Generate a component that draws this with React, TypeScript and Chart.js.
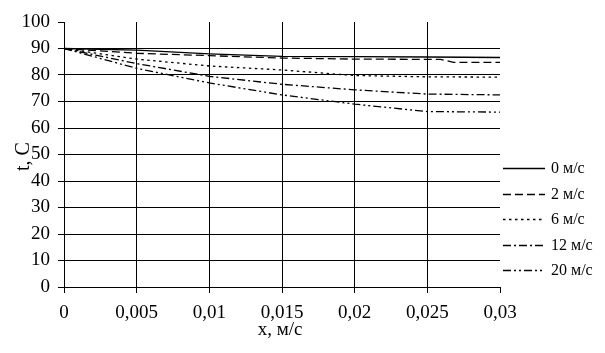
import React, { useEffect, useRef } from "react";
import { Chart, registerables } from "chart.js";

Chart.register(...registerables);

const xValues = [0, 0.005, 0.01, 0.015, 0.02, 0.025, 0.03];
const xTickLabels = ["0", "0,005", "0,01", "0,015", "0,02", "0,025", "0,03"];
const yTicks = [0, 10, 20, 30, 40, 50, 60, 70, 80, 90, 100];

const seriesLabels = ["0 м/с", "2 м/с", "6 м/с", "12 м/с", "20 м/с"];
const t0 = [90, 89.4, 88.0, 87.0, 86.9, 86.8, 86.6];
const x2 = [0, 0.005, 0.01, 0.015, 0.02, 0.025, 0.0259, 0.0268, 0.03];
const t2 = [90, 88.2, 87.3, 86.4, 86.0, 85.9, 85.9, 84.8, 84.8];
const t6 = [90, 86.0, 83.4, 81.9, 79.8, 79.3, 79.2];
const t12 = [90, 84.3, 79.5, 76.5, 74.4, 72.8, 72.5];
const t20 = [90, 82.5, 77.0, 72.5, 69.0, 66.2, 66.0];

const yTitle = "t, C";
const xTitle = "x, м/с";

const FONT = "'Liberation Serif', 'Times New Roman', serif";

const dashes: number[][] = [[], [8, 4], [2.5, 3.5], [8, 3, 2, 3], [8, 3, 2, 3, 2, 3]];

function pts(xs: number[], ys: number[]) {
  return xs.map((x, i) => ({ x, y: ys[i] }));
}

const overlayPlugin = {
  id: "overlay",
  afterDraw(chart: any) {
    const ctx = chart.ctx;
    const area = chart.chartArea;
    ctx.save();
    ctx.fillStyle = "#000";
    // y title
    ctx.font = `20px ${FONT}`;
    ctx.textAlign = "center";
    ctx.textBaseline = "middle";
    ctx.save();
    ctx.translate(24, (area.top + area.bottom) / 2 + 2);
    ctx.rotate(-Math.PI / 2);
    ctx.fillText(yTitle, 0, 0);
    ctx.restore();
    // x title
    ctx.font = `19px ${FONT}`;
    ctx.fillText(xTitle, (area.left + area.right) / 2 - 2, area.bottom + 43);
    // legend
    const lx = area.right + 3;
    const ly0 = 168;
    const step = 25.5;
    chart.data.datasets.forEach((ds: any, i: number) => {
      const y = Math.round(ly0 + i * step) + 0.5;
      ctx.strokeStyle = "#000";
      ctx.lineWidth = 1.3;
      ctx.setLineDash(ds.borderDash || []);
      ctx.beginPath();
      ctx.moveTo(lx, y);
      ctx.lineTo(lx + 42, y);
      ctx.stroke();
      ctx.setLineDash([]);
      ctx.font = `16px ${FONT}`;
      ctx.textAlign = "left";
      ctx.textBaseline = "middle";
      ctx.fillText(ds.label, lx + 48, y);
    });
    ctx.restore();
  },
};

export default function App() {
  const ref = useRef<HTMLCanvasElement | null>(null);
  useEffect(() => {
    document.body.style.margin = "0";
    if (!ref.current) return;
    const all = [pts(xValues, t0), pts(x2, t2), pts(xValues, t6), pts(xValues, t12), pts(xValues, t20)];
    const chart = new Chart(ref.current, {
      type: "line",
      data: {
        datasets: all.map((d, i) => ({
          label: seriesLabels[i],
          data: d,
          borderColor: "#000",
          borderWidth: 1.3,
          borderDash: dashes[i],
          pointRadius: 0,
          fill: false,
          tension: 0,
        })),
      },
      options: {
        responsive: false,
        animation: false,
        layout: { padding: { top: 22, right: 105, left: 0, bottom: 0 } },
        plugins: { legend: { display: false }, tooltip: { enabled: false } },
        scales: {
          x: {
            type: "linear",
            min: 0,
            max: 0.03,
            afterBuildTicks: (s: any) => {
              s.ticks = xValues.map((v) => ({ value: v }));
            },
            afterFit: (s: any) => {
              s.height = 66;
            },
            ticks: {
              callback: (_v: any, i: number) => xTickLabels[i],
              color: "#000",
              font: { family: FONT, size: 19 },
              padding: 9,
              maxRotation: 0,
              autoSkip: false,
            },
            grid: {
              color: (c: any) => (c.index === xValues.length - 1 ? "rgba(0,0,0,0)" : "#000"),
              tickColor: "#000",
              tickLength: 6,
              lineWidth: 1,
            },
            border: { color: "#000", width: 1 },
          },
          y: {
            min: 0,
            max: 100,
            afterBuildTicks: (s: any) => {
              s.ticks = yTicks.map((v) => ({ value: v }));
            },
            afterFit: (s: any) => {
              s.width = 64;
            },
            ticks: {
              color: "#000",
              font: { family: FONT, size: 19 },
              padding: 8,
              autoSkip: false,
            },
            grid: {
              color: (c: any) => (c.tick && c.tick.value === 100 ? "rgba(0,0,0,0)" : "#000"),
              tickColor: "#000",
              tickLength: 6,
              lineWidth: 1,
            },
            border: { color: "#000", width: 1 },
          },
        },
      },
      plugins: [overlayPlugin],
    });
    return () => chart.destroy();
  }, []);
  return (
    <div style={{ width: 605, height: 353, background: "#fff" }}>
      <canvas ref={ref} width={605} height={353} style={{ display: "block" }} />
    </div>
  );
}
